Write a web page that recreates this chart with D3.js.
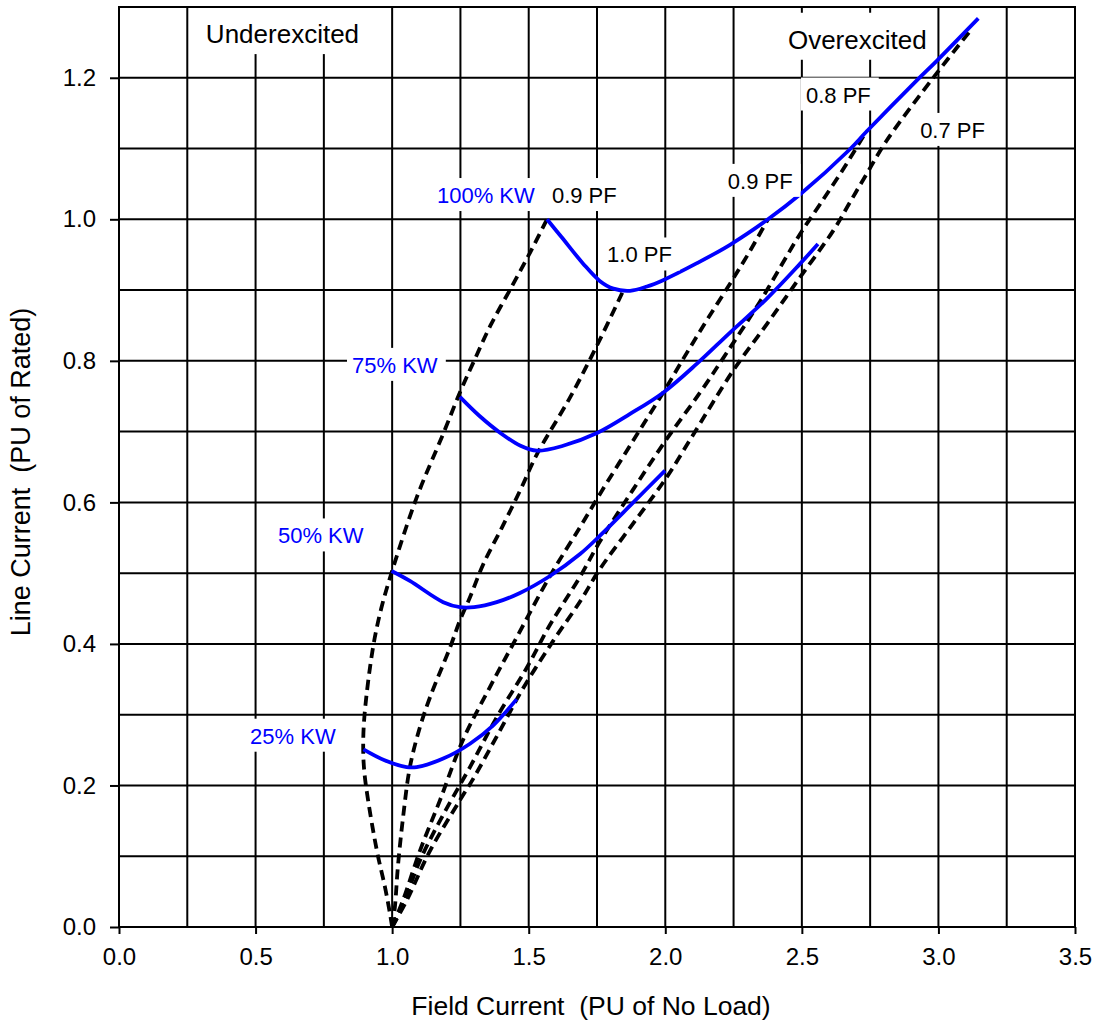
<!DOCTYPE html>
<html><head><meta charset="utf-8">
<script src="https://cdn.jsdelivr.net/npm/d3@7"></script>
<style>
body{margin:0;background:#fff}
text{font-family:"Liberation Sans",Arial,Helvetica,sans-serif}
</style>
</head><body>
<svg id="chart" width="1096" height="1026"></svg>
<script>
// ---------- data ----------
const xTickValues = [0, 0.5, 1.0, 1.5, 2.0, 2.5, 3.0, 3.5];
const yTickValues = [0, 0.2, 0.4, 0.6, 0.8, 1.0, 1.2];
const xGridValues = [0.25, 0.5, 0.75, 1.0, 1.25, 1.5, 1.75, 2.0, 2.25, 2.5, 2.75, 3.0, 3.25];
const yGridValues = [0.1, 0.2, 0.3, 0.4, 0.5, 0.6, 0.7, 0.8, 0.9, 1.0, 1.1, 1.2];

// V-curves (solid blue): [field current, line current]
const kw25 = [[0.895,0.251],[0.97,0.236],[1.053,0.226],[1.09,0.226],[1.187,0.238],[1.285,0.259],[1.370,0.285],[1.456,0.322]];
const kw50 = [[0.998,0.503],[1.065,0.489],[1.187,0.459],[1.248,0.452],[1.30,0.452],[1.383,0.459],[1.468,0.472],[1.578,0.496],[1.688,0.527],[1.761,0.553],[1.883,0.600],[1.999,0.645]];
const kw75 = [[1.248,0.749],[1.32,0.722],[1.40,0.697],[1.47,0.680],[1.53,0.673],[1.626,0.680],[1.75,0.698],[1.871,0.725],[1.992,0.755],[2.116,0.796],[2.237,0.840],[2.372,0.888],[2.493,0.937],[2.559,0.965]];
const kw100 = [[1.567,1.0],[1.62,0.975],[1.70,0.937],[1.76,0.913],[1.81,0.902],[1.871,0.899],[1.933,0.905],[1.992,0.914],[2.116,0.938],[2.237,0.964],[2.376,1.0],[2.493,1.035],[2.676,1.099],[2.737,1.124],[2.92,1.196],[2.994,1.224],[3.146,1.284]];

// Power-factor curves (dashed black)
const pfLead09 = [[1.0,0.0],[0.992,0.019],[0.974,0.056],[0.944,0.108],[0.912,0.179],[0.898,0.22],[0.894,0.254],[0.899,0.30],[0.93,0.395],[0.96,0.45],[0.999,0.502],[1.09,0.607],[1.187,0.697],[1.25,0.757],[1.30,0.800],[1.36,0.850],[1.438,0.905],[1.505,0.953],[1.567,1.0]];
const pfUnity = [[1.0,0.0],[1.01,0.028],[1.021,0.085],[1.04,0.155],[1.065,0.226],[1.10,0.28],[1.139,0.325],[1.212,0.395],[1.248,0.433],[1.285,0.466],[1.334,0.513],[1.40,0.563],[1.47,0.618],[1.53,0.668],[1.651,0.748],[1.749,0.821],[1.846,0.899]];
const pfLag09 = [[1.0,0.0],[1.04,0.038],[1.102,0.108],[1.175,0.179],[1.259,0.264],[1.358,0.339],[1.457,0.410],[1.578,0.496],[1.688,0.565],[1.761,0.612],[1.882,0.687],[1.992,0.755],[2.08,0.812],[2.153,0.858],[2.237,0.909],[2.299,0.948],[2.376,1.0]];
const pfLag08 = [[1.0,0.0],[1.036,0.028],[1.102,0.094],[1.186,0.158],[1.285,0.226],[1.384,0.297],[1.494,0.367],[1.578,0.427],[1.688,0.495],[1.761,0.545],[1.882,0.618],[2.006,0.690],[2.127,0.755],[2.226,0.812],[2.347,0.884],[2.493,0.979],[2.566,1.021],[2.65,1.07],[2.737,1.125]];
const pfLag07 = [[1.0,0.0],[1.054,0.038],[1.139,0.108],[1.248,0.179],[1.296,0.209],[1.384,0.270],[1.479,0.337],[1.589,0.404],[1.688,0.460],[1.761,0.506],[1.882,0.570],[2.006,0.636],[2.09,0.688],[2.248,0.786],[2.372,0.852],[2.493,0.918],[2.615,0.984],[2.676,1.024],[2.737,1.064],[2.81,1.111],[2.987,1.203],[3.116,1.266]];

// Annotations: [text, x, y (baseline)]
const regionLabels = [["Underexcited",0.318,1.249],["Overexcited",2.449,1.241]];
const kwLabels = [["100% KW",1.164,1.023],["75% KW",0.853,0.783],["50% KW",0.582,0.542],["25% KW",0.480,0.259]];
const pfLabels = [["0.9 PF",1.585,1.023],["1.0 PF",1.787,0.939],["0.9 PF",2.229,1.043],["0.8 PF",2.515,1.165],["0.7 PF",2.933,1.115]];

const xTitle = "Field Current  (PU of No Load)";
const yTitle = "Line Current  (PU of Rated)";

// ---------- drawing ----------
const svg = d3.select("#chart");
const L = 119, R = 1075, T = 7, B = 927;
const x = d3.scaleLinear().domain([0,3.5]).range([L,R]);
const y = d3.scaleLinear().domain([0,1.3]).range([B,T]);

svg.append("rect").attr("width",1096).attr("height",1026).attr("fill","#fff");

// grid
const grid = svg.append("g").attr("stroke","#000").attr("stroke-width",2);
grid.selectAll("line.v").data(xGridValues).join("line")
  .attr("x1",d=>x(d)).attr("x2",d=>x(d)).attr("y1",T).attr("y2",B);
grid.selectAll("line.h").data(yGridValues).join("line")
  .attr("x1",L).attr("x2",R).attr("y1",d=>y(d)).attr("y2",d=>y(d));

const line = d3.line().x(d=>x(d[0])).y(d=>y(d[1])).curve(d3.curveCatmullRom.alpha(0.5));

// dashed PF curves
const pfCurves = [pfLead09, pfUnity, pfLag09, pfLag08, pfLag07];
svg.append("g").selectAll("path").data(pfCurves).join("path")
  .attr("d",line).attr("fill","none").attr("stroke","#000")
  .attr("stroke-width",3.8).attr("stroke-dasharray","10,6");

// blue V-curves
const kwCurves = [kw25, kw50, kw75, kw100];
svg.append("g").selectAll("path").data(kwCurves).join("path")
  .attr("d",line).attr("fill","none").attr("stroke","#0000FF")
  .attr("stroke-width",3.8).attr("stroke-linejoin","round");

// labels with white boxes
function addLabel(g, t, dx, dy, size, color, pad){
  const grp = g.append("g");
  const rect = grp.append("rect").attr("fill","#fff");
  const txt = grp.append("text").attr("x",x(dx)).attr("y",y(dy))
    .attr("font-size",size).attr("fill",color).style("white-space","pre").text(t);
  const bb = txt.node().getBBox();
  rect.attr("x",bb.x-pad[0]).attr("y",bb.y-pad[2])
    .attr("width",bb.width+pad[0]+pad[1]).attr("height",bb.height+pad[2]+pad[3]);
}
const lab = svg.append("g");
regionLabels.forEach(d=>addLabel(lab,d[0],d[1],d[2],26,"#000",[6,6,12,5]));
kwLabels.forEach(d=>addLabel(lab,d[0],d[1],d[2],22,"#0000FF",[5,8,5,3]));
pfLabels.forEach(d=>addLabel(lab,d[0],d[1],d[2],22,"#000",[5,8,5,3]));

// frame
svg.append("rect").attr("x",L).attr("y",T).attr("width",R-L).attr("height",B-T)
  .attr("fill","none").attr("stroke","#000").attr("stroke-width",2);

// axes
const fmt = d3.format(".1f");
const xAxis = svg.append("g").attr("transform",`translate(0,${B})`)
  .call(d3.axisBottom(x).tickValues(xTickValues).tickFormat(fmt).tickSize(7).tickPadding(14));
const yAxis = svg.append("g").attr("transform",`translate(${L},0)`)
  .call(d3.axisLeft(y).tickValues(yTickValues).tickFormat(fmt).tickSize(9).tickPadding(14));
[xAxis,yAxis].forEach(a=>{
  a.select(".domain").remove();
  a.selectAll(".tick line").attr("stroke","#000").attr("stroke-width",2);
  a.selectAll(".tick text").attr("font-size",24).attr("fill","#000")
    .style("font-family",'"Liberation Sans",Arial,sans-serif');
});

// axis titles
svg.append("text").attr("x",591).attr("y",1015).attr("text-anchor","middle")
  .attr("font-size",26.5).attr("fill","#000").style("white-space","pre").text(xTitle);
svg.append("text").attr("transform","translate(30,472) rotate(-90)").attr("text-anchor","middle")
  .attr("font-size",27).attr("fill","#000").style("white-space","pre").text(yTitle);
</script>
</body></html>
